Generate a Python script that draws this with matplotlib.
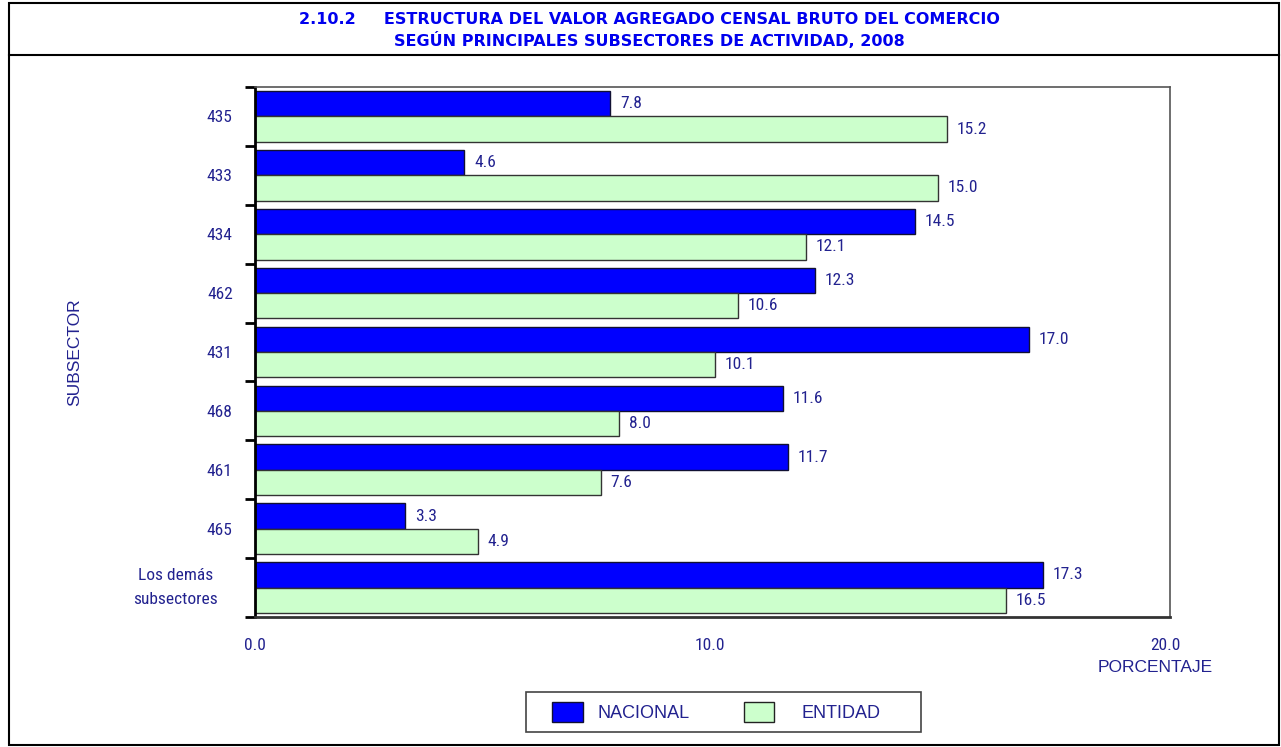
import numpy as np
import matplotlib.pyplot as plt
from matplotlib.patches import Rectangle, Patch
from matplotlib.lines import Line2D

# data
subsectores = ['435', '433', '434', '462', '431', '468', '461', '465', 'Los demás\nsubsectores']
nacional = [7.8, 4.6, 14.5, 12.3, 17.0, 11.6, 11.7, 3.3, 17.3]
entidad = [15.2, 15.0, 12.1, 10.6, 10.1, 8.0, 7.6, 4.9, 16.5]
x_ticks = [0.0, 10.0, 20.0]

titulo1 = '2.10.2     ESTRUCTURA DEL VALOR AGREGADO CENSAL BRUTO DEL COMERCIO'
titulo2 = 'SEGÚN PRINCIPALES SUBSECTORES DE ACTIVIDAD, 2008'

NARROW = ['Roboto Condensed', 'Liberation Sans', 'DejaVu Sans']
REG = ['Liberation Sans', 'DejaVu Sans']
txt_col = '#22228f'
azul = '#0000ff'
verde = '#ccffcc'

W, H = 1281, 747
fig = plt.figure(figsize=(W / 100, H / 100), dpi=100)
ax = fig.add_axes([255 / W, 1 - 617 / H, (1170 - 255) / W, (617 - 87) / H])

y = np.arange(len(subsectores))
h = 0.43
b1 = ax.barh(y - h / 2, nacional, height=h, color=azul, edgecolor='#111133', linewidth=1)
b2 = ax.barh(y + h / 2, entidad, height=h, color=verde, edgecolor='#333333', linewidth=1)

for bars, vals in ((b1, nacional), (b2, entidad)):
    for r, v in zip(bars, vals):
        ax.annotate(f'{v:.1f}', (r.get_width(), r.get_y() + r.get_height() / 2),
                    xytext=(7, 0), textcoords='offset points', va='center', ha='left',
                    fontsize=12.5, family=NARROW, color=txt_col)

ax.set_xlim(0, 20.1)
ax.set_ylim(len(subsectores) - 0.5, -0.5)
ax.set_xticks(x_ticks)
ax.set_xticklabels([f'{t:.1f}' for t in x_ticks], family=NARROW, fontsize=12.5, color=txt_col)
ax.tick_params(axis='x', length=0, pad=15)

ax.set_yticks(y)
ax.set_yticklabels([s if '\n' not in s else '' for s in subsectores],
                   family=NARROW, fontsize=12.5, color=txt_col)
ax.tick_params(axis='y', which='major', length=0, pad=16)
ax.set_yticks(np.arange(len(subsectores) + 1) - 0.5, minor=True)
ax.tick_params(axis='y', which='minor', length=7, width=2, color='black', direction='out')
for i, s in enumerate(subsectores):
    if '\n' in s:
        ax.text(-0.087, i, s, transform=ax.get_yaxis_transform(), ha='center', va='center',
                multialignment='center', family=NARROW, fontsize=12.5, color=txt_col,
                linespacing=1.7)

ax.spines['left'].set_linewidth(2)
ax.spines['left'].set_color('black')
ax.spines['bottom'].set_linewidth(2)
ax.spines['bottom'].set_color('#333333')
for s in ('top', 'right'):
    ax.spines[s].set_linewidth(1.2)
    ax.spines[s].set_color('#555555')

fig.text(75 / W, 1 - 352 / H, 'SUBSECTOR', rotation=90, ha='center', va='center',
         family=REG, fontsize=12.5, color=txt_col)
fig.text(1155 / W, 1 - 668 / H, 'PORCENTAJE', ha='center', va='center',
         family=REG, fontsize=12.5, color=txt_col)

fig.text(649 / W, 1 - 19 / H, titulo1, ha='center', va='center', family='DejaVu Sans',
         fontsize=11.5, fontweight='bold', color='#0000ee')
fig.text(649 / W, 1 - 41 / H, titulo2, ha='center', va='center', family='DejaVu Sans',
         fontsize=11.5, fontweight='bold', color='#0000ee')

# figure frame and title separator
x0, y0, x1, y1 = 9, 3, 1279, 745
fig.patches.append(Rectangle((x0 / W, 1 - y1 / H), (x1 - x0) / W, (y1 - y0) / H,
                             transform=fig.transFigure, fill=False, edgecolor='black',
                             linewidth=1.5))
fig.lines.append(Line2D([x0 / W, x1 / W], [1 - 54.5 / H, 1 - 54.5 / H], transform=fig.transFigure,
                        color='black', linewidth=1.5))

# legend
fig.patches.append(Rectangle((526 / W, 1 - 732 / H), (921 - 526) / W, 40 / H,
                             transform=fig.transFigure, fill=False, edgecolor='#444444',
                             linewidth=1.2))
leg = fig.legend([Patch(facecolor=azul, edgecolor='#111133'),
                  Patch(facecolor=verde, edgecolor='#222222')],
                 ['NACIONAL', 'ENTIDAD'], loc='center',
                 bbox_to_anchor=(710 / W, 1 - 712 / H), ncol=2, frameon=False,
                 prop={'family': REG, 'size': 13}, handlelength=1.7, handleheight=1.3,
                 handletextpad=0.8, columnspacing=3.0)
for t in leg.get_texts():
    t.set_color(txt_col)
leg.get_texts()[1].set_position((13, 0))

fig.savefig('out.png', dpi=100)
